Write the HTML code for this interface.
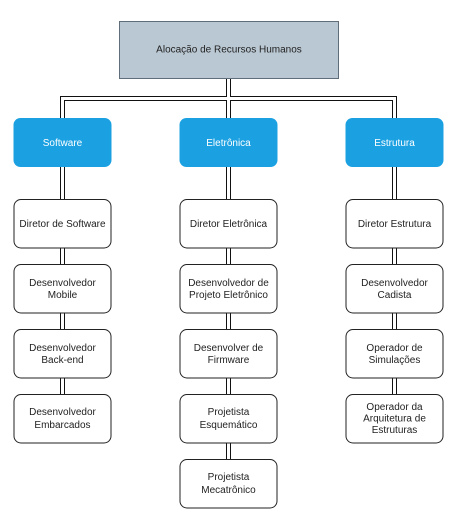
<!DOCTYPE html>
<html><head><meta charset="utf-8"><style>
html,body{margin:0;padding:0;background:#fff;}
svg{display:block;}
text{font-family:"Liberation Sans",Arial,sans-serif;font-size:10px;fill:#222;text-anchor:middle;}
</style></head><body>
<svg width="462" height="514" viewBox="0 0 462 514" xmlns="http://www.w3.org/2000/svg">
<g fill="none" stroke-linejoin="miter">
<g stroke="#111" stroke-width="5">
<path d="M62.5 118 V98.5 H394.5 V118"/>
<path d="M228.5 78 V118"/>
<path d="M62.5 167 V442 M228.5 167 V459 M394.5 167 V394"/>
</g>
<g stroke="#fff" stroke-width="3">
<path d="M62.5 118 V98.5 H394.5 V118"/>
<path d="M228.5 78 V118"/>
<path d="M62.5 167 V442 M228.5 167 V459 M394.5 167 V394"/>
</g>
</g>
<rect x="119.5" y="21.5" width="219" height="57" fill="#bac8d3" stroke="#5f6e7a" stroke-width="1"/>
<text x="229" y="52.5">Alocação de Recursos Humanos</text>
<g fill="#1ba1e2">
<rect x="13.5" y="118" width="98" height="49" rx="7"/>
<rect x="179.5" y="118" width="98" height="49" rx="7"/>
<rect x="345.5" y="118" width="98" height="49" rx="7"/>
</g>
<text x="62.5" y="146" style="fill:#fff">Software</text>
<text x="228.5" y="146" style="fill:#fff">Eletrônica</text>
<text x="394.5" y="146" style="fill:#fff">Estrutura</text>
<g fill="#fff" stroke="#222" stroke-width="1">
<rect x="14" y="199.5" width="97" height="48.5" rx="7"/>
<rect x="14" y="264.5" width="97" height="48.5" rx="7"/>
<rect x="14" y="329.5" width="97" height="48.5" rx="7"/>
<rect x="14" y="394.5" width="97" height="48.5" rx="7"/>
<rect x="180" y="199.5" width="97" height="48.5" rx="7"/>
<rect x="180" y="264.5" width="97" height="48.5" rx="7"/>
<rect x="180" y="329.5" width="97" height="48.5" rx="7"/>
<rect x="180" y="394.5" width="97" height="48.5" rx="7"/>
<rect x="180" y="459.5" width="97" height="48.5" rx="7"/>
<rect x="346" y="199.5" width="97" height="48.5" rx="7"/>
<rect x="346" y="264.5" width="97" height="48.5" rx="7"/>
<rect x="346" y="329.5" width="97" height="48.5" rx="7"/>
<rect x="346" y="394.5" width="97" height="48.5" rx="7"/>
</g>
<text x="62.5" y="227">Diretor de Software</text>
<text x="62.5" y="286">Desenvolvedor</text><text x="62.5" y="298">Mobile</text>
<text x="62.5" y="351">Desenvolvedor</text><text x="62.5" y="363">Back-end</text>
<text x="62.5" y="415">Desenvolvedor</text><text x="62.5" y="428">Embarcados</text>
<text x="228.5" y="227">Diretor Eletrônica</text>
<text x="228.5" y="286">Desenvolvedor de</text><text x="228.5" y="298">Projeto Eletrônico</text>
<text x="228.5" y="351">Desenvolver de</text><text x="228.5" y="363">Firmware</text>
<text x="228.5" y="415">Projetista</text><text x="228.5" y="428">Esquemático</text>
<text x="228.5" y="480">Projetista</text><text x="228.5" y="493">Mecatrônico</text>
<text x="394.5" y="227">Diretor Estrutura</text>
<text x="394.5" y="286">Desenvolvedor</text><text x="394.5" y="298">Cadista</text>
<text x="394.5" y="351">Operador de</text><text x="394.5" y="363">Simulações</text>
<text x="394.5" y="410">Operador da</text><text x="394.5" y="421.5">Arquitetura de</text><text x="394.5" y="433">Estruturas</text>
</svg>
</body></html>
